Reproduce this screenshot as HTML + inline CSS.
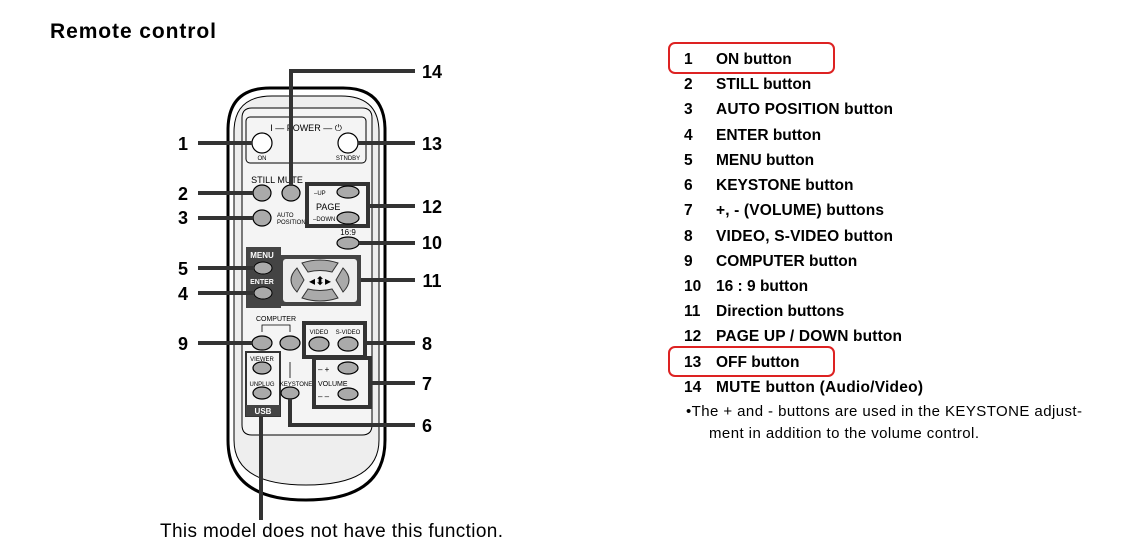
<!DOCTYPE html>
<html><head><meta charset="utf-8"><style>
body{margin:0;background:#fff;width:1131px;height:555px;overflow:hidden;font-family:"Liberation Sans",Arial,sans-serif}
</style></head><body>
<svg width="1131" height="555" xmlns="http://www.w3.org/2000/svg" font-family="Liberation Sans, Arial, sans-serif">
<text x="50" y="38" font-size="21" font-weight="bold" textLength="166">Remote control</text>
<path d="M228,130 Q228,88 270,88 L343,88 Q385,88 385,130 L385,440 Q385,500 306,500 Q228,500 228,440 Z" fill="#fff" stroke="#000" stroke-width="3"/>
<path d="M234,132 Q234,96 272,96 L341,96 Q379,96 379,132 L379,440 Q379,485 306,485 Q234,485 234,440 Z" fill="#eee" stroke="#000" stroke-width="1"/>
<path d="M242,118 Q242,108 252,108 L362,108 Q372,108 372,118 L372,425 Q372,435 362,435 L252,435 Q242,435 242,425 Z" fill="#f4f4f4" stroke="#000" stroke-width="1"/>
<rect x="246" y="117" width="120" height="46" rx="4" fill="none" stroke="#000" stroke-width="1"/>
<text x="306" y="131" font-size="9" text-anchor="middle">I — POWER — ⏻</text>
<g fill="#fff" stroke="#000" stroke-width="1.2">
<circle cx="262" cy="143" r="10"/><circle cx="348" cy="143" r="10"/></g>
<text x="262" y="160" font-size="6" text-anchor="middle">ON</text>
<text x="348" y="160" font-size="6" text-anchor="middle">STNDBY</text>
<text x="277" y="183" font-size="9" text-anchor="middle">STILL MUTE</text>
<g fill="#aaa" stroke="#000" stroke-width="1.2">
<ellipse cx="262" cy="193" rx="9" ry="8"/><ellipse cx="291" cy="193" rx="9" ry="8"/><ellipse cx="262" cy="218" rx="9" ry="8"/>
</g>
<text x="277" y="217" font-size="6">AUTO</text><text x="277" y="224" font-size="6">POSITION</text>
<rect x="307" y="184" width="61" height="42" fill="none" stroke="#333" stroke-width="4"/>
<text x="314" y="195" font-size="6">–UP</text><text x="316" y="210" font-size="9">PAGE</text><text x="313" y="221" font-size="6">–DOWN</text>
<g fill="#aaa" stroke="#000" stroke-width="1.2">
<ellipse cx="348" cy="192" rx="11" ry="6"/><ellipse cx="348" cy="218" rx="11" ry="6"/><ellipse cx="348" cy="243" rx="11" ry="6"/></g>
<text x="348" y="235" font-size="8" text-anchor="middle">16:9</text>
<rect x="246" y="247" width="35" height="61" fill="#444"/>
<text x="262" y="258" font-size="8" font-weight="bold" fill="#fff" text-anchor="middle">MENU</text>
<text x="262" y="284" font-size="7" font-weight="bold" fill="#fff" text-anchor="middle">ENTER</text>
<g fill="#aaa" stroke="#000" stroke-width="1"><ellipse cx="263" cy="268" rx="9" ry="6"/><ellipse cx="263" cy="293" rx="9" ry="6"/></g>
<rect x="279" y="255" width="82" height="51" fill="#444"/>
<rect x="283" y="259" width="74" height="43" rx="3" fill="#eee"/>
<g fill="#aaa" stroke="#333" stroke-width="1">
<path d="M302,263 Q320,257 338,263 L332,272 Q320,269 308,272 Z"/>
<path d="M302,298 Q320,304 338,298 L332,289 Q320,292 308,289 Z"/>
<path d="M297,268 L304,280 L297,292 Q285,280 297,268 Z"/>
<path d="M343,268 L336,280 L343,292 Q355,280 343,268 Z"/></g>
<text x="320" y="285" font-size="12" text-anchor="middle">◂⬍▸</text>
<text x="276" y="321" font-size="7" text-anchor="middle">COMPUTER</text>
<path d="M262,332 V325 H290 V332" fill="none" stroke="#000" stroke-width="0.8"/>
<g fill="#aaa" stroke="#000" stroke-width="1.2"><ellipse cx="262" cy="343" rx="10" ry="7"/><ellipse cx="290" cy="343" rx="10" ry="7"/></g>
<rect x="304" y="323" width="61" height="34" fill="none" stroke="#333" stroke-width="4"/>
<text x="319" y="334" font-size="6" text-anchor="middle">VIDEO</text><text x="348" y="334" font-size="6" text-anchor="middle">S-VIDEO</text>
<g fill="#aaa" stroke="#000" stroke-width="1.2"><ellipse cx="319" cy="344" rx="10" ry="7"/><ellipse cx="348" cy="344" rx="10" ry="7"/></g>
<rect x="246" y="352" width="34" height="64" fill="none" stroke="#333" stroke-width="2"/>
<rect x="246" y="405" width="34" height="11" fill="#444"/>
<text x="263" y="414" font-size="8" font-weight="bold" fill="#fff" text-anchor="middle">USB</text>
<text x="262" y="361" font-size="6" text-anchor="middle">VIEWER</text><text x="262" y="386" font-size="6" text-anchor="middle">UNPLUG</text>
<g fill="#aaa" stroke="#000" stroke-width="1.2"><ellipse cx="262" cy="368" rx="9" ry="6"/><ellipse cx="262" cy="393" rx="9" ry="6"/><ellipse cx="290" cy="393" rx="9" ry="6"/></g>
<text x="296" y="386" font-size="6" text-anchor="middle">KEYSTONE</text>
<line x1="290" y1="362" x2="290" y2="378" stroke="#000" stroke-width="0.8"/>
<rect x="314" y="358" width="56" height="49" fill="none" stroke="#333" stroke-width="4"/>
<text x="318" y="372" font-size="8">– +</text><text x="318" y="386" font-size="7">VOLUME</text><text x="318" y="399" font-size="8">– –</text>
<g fill="#aaa" stroke="#000" stroke-width="1.2"><ellipse cx="348" cy="368" rx="10" ry="6"/><ellipse cx="348" cy="394" rx="10" ry="6"/></g>
<g stroke="#333" stroke-width="4" fill="none">
<line x1="198" y1="143" x2="252" y2="143"/><line x1="198" y1="193" x2="253" y2="193"/><line x1="198" y1="218" x2="253" y2="218"/>
<line x1="198" y1="268" x2="254" y2="268"/><line x1="198" y1="293" x2="254" y2="293"/><line x1="198" y1="343" x2="252" y2="343"/>
<polyline points="291,186 291,71 415,71"/>
<line x1="358" y1="143" x2="415" y2="143"/><line x1="368" y1="206" x2="415" y2="206"/><line x1="359" y1="243" x2="415" y2="243"/>
<line x1="361" y1="280" x2="415" y2="280"/><line x1="365" y1="343" x2="415" y2="343"/><line x1="370" y1="383" x2="415" y2="383"/>
<polyline points="290,399 290,425 415,425"/>
<line x1="261" y1="416" x2="261" y2="520"/></g>
<g font-size="18" font-weight="bold" text-anchor="middle">
<text x="183" y="150">1</text><text x="183" y="200">2</text><text x="183" y="224">3</text><text x="183" y="275">5</text><text x="183" y="300">4</text><text x="183" y="350">9</text>
<text x="432" y="78">14</text><text x="432" y="150">13</text><text x="432" y="213">12</text><text x="432" y="249">10</text><text x="432" y="287">11</text><text x="427" y="350">8</text><text x="427" y="390">7</text><text x="427" y="432">6</text></g>
<text x="160" y="537" font-size="19" textLength="343">This model does not have this function.</text>
<g font-size="15.5" font-weight="bold">
<text x="684" y="64">1</text><text x="716" y="64">ON button</text>
<text x="684" y="89">2</text><text x="716" y="89">STILL button</text>
<text x="684" y="114">3</text><text x="716" y="114" textLength="177">AUTO POSITION button</text>
<text x="684" y="140">4</text><text x="716" y="140">ENTER button</text>
<text x="684" y="165">5</text><text x="716" y="165">MENU button</text>
<text x="684" y="190">6</text><text x="716" y="190">KEYSTONE button</text>
<text x="684" y="215">7</text><text x="716" y="215" textLength="168">+, - (VOLUME) buttons</text>
<text x="684" y="241">8</text><text x="716" y="241" textLength="177">VIDEO, S-VIDEO button</text>
<text x="684" y="266">9</text><text x="716" y="266">COMPUTER button</text>
<text x="684" y="291">10</text><text x="716" y="291">16 : 9 button</text>
<text x="684" y="316">11</text><text x="716" y="316">Direction buttons</text>
<text x="684" y="341">12</text><text x="716" y="341" textLength="186">PAGE UP / DOWN button</text>
<text x="684" y="367">13</text><text x="716" y="367">OFF button</text>
<text x="684" y="392">14</text><text x="716" y="392" textLength="207">MUTE button (Audio/Video)</text></g>
<text x="686" y="416" font-size="15" textLength="396">•The + and - buttons are used in the KEYSTONE adjust-</text>
<text x="709" y="438" font-size="15" textLength="270">ment in addition to the volume control.</text>
<rect x="669" y="43" width="165" height="30" rx="6" fill="none" stroke="#d22" stroke-width="2"/>
<rect x="669" y="347" width="165" height="29" rx="6" fill="none" stroke="#d22" stroke-width="2"/>
</svg>
</body></html>
